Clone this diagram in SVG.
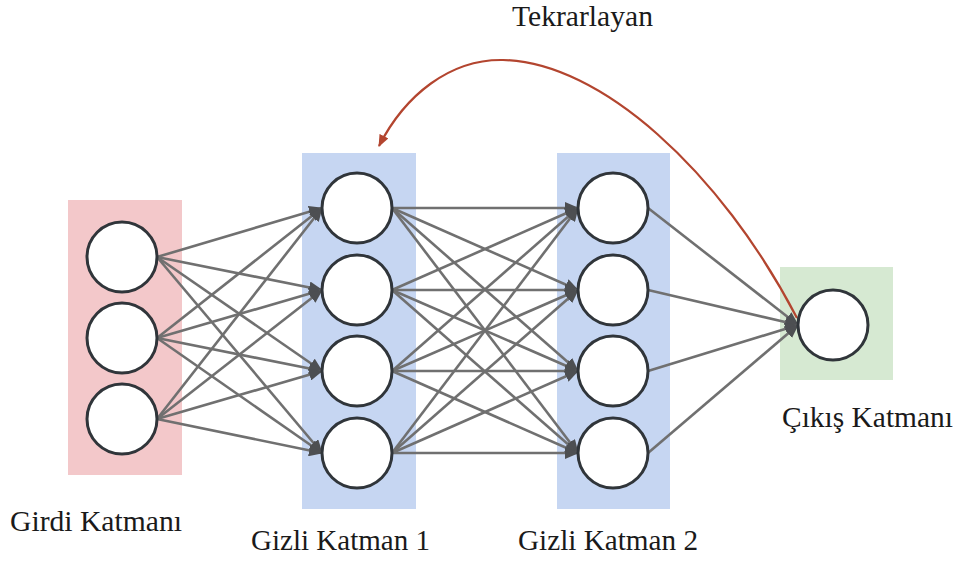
<svg xmlns="http://www.w3.org/2000/svg" width="961" height="564" viewBox="0 0 961 564">
<style>
.n{fill:#ffffff;stroke:#30353a;stroke-width:3}
.e{stroke:#707070;stroke-width:2.6;fill:none;marker-end:url(#ah)}
.rec{fill:none;stroke:#b3452f;stroke-width:2.2;marker-end:url(#ahr)}
</style>
<defs>
<marker id="ah" markerUnits="userSpaceOnUse" viewBox="0 0 14 12" refX="13" refY="6" markerWidth="14" markerHeight="12" orient="auto">
<path d="M0,0 L14,6 L0,12 z" fill="#4d4f52"/>
</marker>
<marker id="ahr" markerUnits="userSpaceOnUse" viewBox="0 0 12 10" refX="11" refY="5" markerWidth="12" markerHeight="10" orient="auto">
<path d="M0,0 L12,5 L0,10 z" fill="#b3452f"/>
</marker>
</defs>
<rect width="961" height="564" fill="#ffffff"/>
<g id="layer-bg">
<rect x="68" y="200" width="114" height="275" fill="#f3c8ca"/>
<rect x="302" y="153" width="114" height="356" fill="#c6d6f2"/>
<rect x="557" y="153" width="113" height="356" fill="#c6d6f2"/>
<rect x="780" y="267" width="113" height="113" fill="#d6e9d2"/>
</g>
<g id="connectors">
<path class="e" d="M157,257 L322,208"/><path class="e" d="M157,257 L322,290"/><path class="e" d="M157,257 L322,371"/><path class="e" d="M157,257 L322,453"/>
<path class="e" d="M157,338 L322,208"/><path class="e" d="M157,338 L322,290"/><path class="e" d="M157,338 L322,371"/><path class="e" d="M157,338 L322,453"/>
<path class="e" d="M157,419 L322,208"/><path class="e" d="M157,419 L322,290"/><path class="e" d="M157,419 L322,371"/><path class="e" d="M157,419 L322,453"/>
<path class="e" d="M392,208 L578,208"/><path class="e" d="M392,208 L578,290"/><path class="e" d="M392,208 L578,371"/><path class="e" d="M392,208 L578,453"/>
<path class="e" d="M392,290 L578,208"/><path class="e" d="M392,290 L578,290"/><path class="e" d="M392,290 L578,371"/><path class="e" d="M392,290 L578,453"/>
<path class="e" d="M392,371 L578,208"/><path class="e" d="M392,371 L578,290"/><path class="e" d="M392,371 L578,371"/><path class="e" d="M392,371 L578,453"/>
<path class="e" d="M392,453 L578,208"/><path class="e" d="M392,453 L578,290"/><path class="e" d="M392,453 L578,371"/><path class="e" d="M392,453 L578,453"/>
<path class="e" d="M648,208 L798,325"/><path class="e" d="M648,290 L798,325"/><path class="e" d="M648,371 L798,325"/><path class="e" d="M648,453 L798,325"/>
<path class="rec" d="M797,318 C720,170 600,62 503,60 C450,59 405,95 379,146"/>
</g>
<g id="input-1"><circle class="n" cx="122" cy="257" r="35"/></g>
<g id="input-2"><circle class="n" cx="122" cy="338" r="35"/></g>
<g id="input-3"><circle class="n" cx="122" cy="419" r="35"/></g>
<g id="hidden1-1"><circle class="n" cx="357" cy="208" r="35"/></g>
<g id="hidden1-2"><circle class="n" cx="357" cy="290" r="35"/></g>
<g id="hidden1-3"><circle class="n" cx="357" cy="371" r="35"/></g>
<g id="hidden1-4"><circle class="n" cx="357" cy="453" r="35"/></g>
<g id="hidden2-1"><circle class="n" cx="613" cy="208" r="35"/></g>
<g id="hidden2-2"><circle class="n" cx="613" cy="290" r="35"/></g>
<g id="hidden2-3"><circle class="n" cx="613" cy="371" r="35"/></g>
<g id="hidden2-4"><circle class="n" cx="613" cy="453" r="35"/></g>
<g id="output-1"><circle class="n" cx="833" cy="325" r="35"/></g>
<g id="labels" font-family="'Liberation Serif', 'DejaVu Serif', serif" font-size="30" fill="#1a1a1a">
<text x="512" y="26" textLength="141" lengthAdjust="spacingAndGlyphs">Tekrarlayan</text>
<text x="10" y="531" textLength="172" lengthAdjust="spacingAndGlyphs">Girdi Katmanı</text>
<text x="251" y="550" textLength="179" lengthAdjust="spacingAndGlyphs">Gizli Katman 1</text>
<text x="518" y="550" textLength="180" lengthAdjust="spacingAndGlyphs">Gizli Katman 2</text>
<text x="782" y="427" textLength="171" lengthAdjust="spacingAndGlyphs">Çıkış Katmanı</text>
</g>
</svg>
